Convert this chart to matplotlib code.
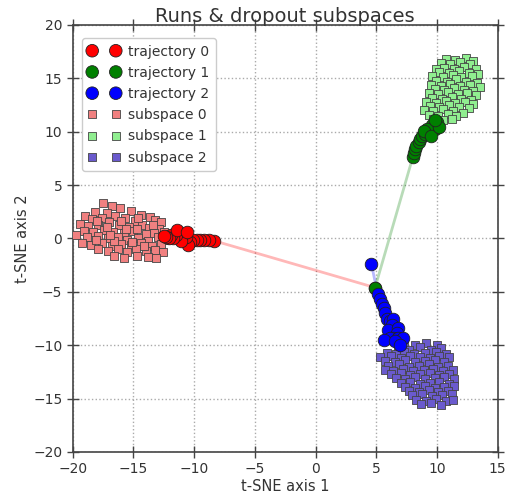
import matplotlib
matplotlib.use("Agg")
import matplotlib.pyplot as plt
import numpy as np

# ---------------- data ----------------
traj0_x = [4.9, -8.4, -8.8, -9.2, -9.5, -9.8, -10.1, -10.3, -10.5, -10.7, -10.9, -11.1, -11.3, -11.5, -11.7, -11.9, -12.1, -12.3, -12.5, -11.4, -10.6]
traj0_y = [-4.6, -0.2, -0.15, -0.1, -0.15, -0.1, -0.1, -0.3, -0.6, 0.1, 0.4, -0.2, 0.6, 0.3, 0.0, 0.35, 0.05, 0.15, 0.2, 0.75, 0.65]

traj1_x = [4.9, 8.0, 8.1, 8.2, 8.3, 8.5, 8.6, 8.8, 9.0, 9.3, 9.6, 9.8, 9.9, 10.0, 9.6, 9.2, 8.9, 9.5, 10.2, 9.8]
traj1_y = [-4.6, 7.6, 8.0, 8.4, 8.7, 9.0, 9.3, 9.6, 9.8, 9.9, 10.1, 10.3, 10.6, 10.9, 10.6, 10.3, 10.1, 9.6, 10.4, 11.1]

traj2_x = [4.6, 5.1, 5.3, 5.45, 5.6, 5.7, 5.9, 6.1, 6.4, 6.3, 6.0, 6.8, 6.7, 6.4, 6.1, 5.65, 6.8, 7.2, 6.5, 6.95]
traj2_y = [-2.35, -5.2, -5.7, -6.1, -6.5, -7.0, -7.5, -7.7, -7.5, -8.1, -8.6, -8.4, -8.9, -9.3, -9.3, -9.5, -9.3, -9.3, -9.6, -10.0]

sub0_x = [-17.5, -16.8, -16.1, -15.2, -18.2, -17.2, -14.4, -13.6,
          -19.0, -18.4, -17.6, -16.5, -15.7, -14.9, -13.2, -12.7,
          -19.4, -18.7, -17.9, -17.0, -16.2, -15.4, -14.3, -13.7, -12.9,
          -19.1, -18.3, -17.4, -16.7, -15.8, -15.0, -14.0, -13.3, -12.5,
          -19.7, -18.8, -17.9, -17.1, -16.3, -15.5, -14.6, -13.8, -13.0, -12.4,
          -19.2, -18.5, -17.6, -16.8, -16.0, -15.2, -14.4, -13.5, -12.7,
          -17.9, -17.1, -16.3, -15.5, -14.8, -14.0, -13.2, -12.6,
          -16.6, -15.8, -14.7, -13.8, -13.1,
          -18.0, -16.0, -14.6, -17.2, -15.6, -14.7, -18.1, -16.6, -14.1, -13.4, -15.1, -16.9]
sub0_y = [3.3, 3.0, 2.9, 2.6, 2.5, 2.4, 2.2, 2.0,
          2.1, 1.8, 1.9, 2.1, 1.9, 1.6, 1.7, 1.5,
          1.4, 1.2, 1.3, 1.5, 1.3, 1.1, 1.3, 1.0, 0.9,
          0.7, 0.6, 0.8, 0.6, 0.5, 0.7, 0.4, 0.5, 0.6,
          0.3, 0.1, 0.2, 0.0, 0.1, -0.1, 0.0, -0.2, 0.1, -0.1,
          -0.4, -0.6, -0.4, -0.7, -0.5, -0.6, -0.4, -0.7, -0.5,
          -1.0, -1.2, -1.0, -1.3, -1.0, -1.2, -1.1, -1.3,
          -1.6, -1.8, -1.6, -1.7, -1.8,
          1.6, 1.6, 1.9, 1.1, 0.9, 0.9, -0.1, -0.2, -0.7, 1.3, -0.3, 0.3]

sub1_x = [10.7, 11.5, 12.4, 13.0,
          10.3, 11.1, 11.9, 12.7,
          9.9, 10.6, 11.4, 12.2, 13.2,
          10.2, 11.0, 11.8, 12.6, 13.4,
          9.6, 10.5, 11.3, 12.0, 12.9,
          9.9, 10.8, 11.6, 12.4, 13.3,
          9.5, 10.3, 11.1, 11.9, 12.7, 13.5,
          9.8, 10.6, 11.4, 12.2, 13.0,
          9.3, 10.1, 10.9, 11.7, 12.5, 13.2,
          9.6, 10.4, 11.2, 12.0, 12.8,
          9.1, 9.9, 10.7, 11.5, 12.3, 13.0,
          9.4, 10.2, 11.0, 11.8, 12.6,
          8.9, 9.7, 10.5, 11.3, 12.1,
          9.3, 10.1, 10.9, 11.6,
          9.7, 10.5, 11.2]
sub1_y = [16.8, 16.7, 16.9, 16.6,
          16.4, 16.3, 16.5, 16.3,
          15.9, 16.0, 15.9, 16.1, 15.9,
          15.6, 15.5, 15.7, 15.5, 15.4,
          15.2, 15.1, 15.3, 15.1, 15.2,
          14.8, 14.7, 14.9, 14.7, 14.6,
          14.4, 14.3, 14.5, 14.3, 14.4, 14.2,
          14.0, 13.9, 14.1, 13.9, 13.8,
          13.6, 13.5, 13.7, 13.5, 13.6, 13.4,
          13.2, 13.1, 13.3, 13.1, 13.0,
          12.8, 12.7, 12.9, 12.7, 12.8, 12.6,
          12.4, 12.3, 12.5, 12.3, 12.2,
          12.0, 11.9, 12.1, 11.9, 11.8,
          11.6, 11.5, 11.7, 11.5,
          11.2, 11.1, 11.2]

sub2_x = [7.3, 8.2, 9.1, 10.0,
          6.8, 7.7, 8.6, 9.5, 10.3,
          5.9, 6.6, 7.3, 8.1, 9.0, 9.9, 10.7,
          5.3, 6.2, 7.0, 7.8, 8.6, 9.4, 10.2, 11.0,
          5.7, 6.5, 7.4, 8.2, 9.0, 9.8, 10.6,
          6.0, 6.9, 7.7, 8.5, 9.3, 10.1, 10.9,
          5.7, 6.4, 7.2, 8.0, 8.9, 9.7, 10.5, 11.3,
          6.2, 7.0, 7.8, 8.6, 9.4, 10.2, 11.0,
          6.6, 7.4, 8.2, 9.0, 9.8, 10.6, 11.4,
          7.0, 7.8, 8.6, 9.4, 10.2, 11.0,
          7.4, 8.2, 9.0, 9.8, 10.6, 11.4,
          7.7, 8.5, 9.3, 10.1, 10.9,
          7.9, 8.8, 9.6, 10.4, 11.2,
          8.3, 9.1, 9.9, 10.7, 11.3,
          8.7, 9.5, 10.3]
sub2_y = [-9.9, -10.0, -9.8, -10.0,
          -10.3, -10.4, -10.2, -10.4, -10.3,
          -10.7, -10.8, -10.6, -10.8, -10.7, -10.6, -10.8,
          -11.1, -11.0, -11.2, -11.0, -11.1, -11.2, -11.0, -11.1,
          -11.5, -11.6, -11.4, -11.6, -11.5, -11.4, -11.6,
          -11.9, -11.8, -12.0, -11.9, -11.8, -12.0, -11.9,
          -12.3, -12.4, -12.2, -12.4, -12.3, -12.2, -12.4, -12.3,
          -12.7, -12.6, -12.8, -12.7, -12.6, -12.8, -12.7,
          -13.1, -13.2, -13.0, -13.2, -13.1, -13.0, -13.2,
          -13.5, -13.4, -13.6, -13.5, -13.4, -13.6,
          -13.9, -14.0, -13.8, -14.0, -13.9, -13.8,
          -14.3, -14.4, -14.2, -14.4, -14.3,
          -14.7, -14.6, -14.8, -14.7, -14.6,
          -15.1, -15.2, -15.0, -15.2, -15.1,
          -15.5, -15.4, -15.6]

traj_colors = ["red", "green", "blue"]
sub_colors = ["lightcoral", "lightgreen", "slateblue"]
traj_labels = ["trajectory 0", "trajectory 1", "trajectory 2"]
sub_labels = ["subspace 0", "subspace 1", "subspace 2"]

# ---------------- plot ----------------
txt = "#333333"
plt.rcParams["font.family"] = ["DejaVu Sans"]
plt.rcParams["text.color"] = txt
plt.rcParams["axes.labelcolor"] = txt
plt.rcParams["xtick.color"] = txt
plt.rcParams["ytick.color"] = txt

fig = plt.figure(figsize=(5.07, 4.98), dpi=100)
ax = fig.add_axes([0.1434, 0.0924, 0.8383, 0.8574])

trajs = [(traj0_x, traj0_y), (traj1_x, traj1_y), (traj2_x, traj2_y)]
subs = [(sub0_x, sub0_y), (sub1_x, sub1_y), (sub2_x, sub2_y)]

handles_t = []
for (tx, ty), c, lab in zip(trajs, traj_colors, traj_labels):
    ax.plot(tx, ty, "-", color=c, alpha=0.28, lw=2, zorder=2)
    h = ax.scatter(tx, ty, s=82, c=c, marker="o", edgecolors="#222222",
                   linewidths=0.6, zorder=4, label=lab)
    handles_t.append(h)

handles_s = []
for (sx, sy), c, lab in zip(subs, sub_colors, sub_labels):
    h = ax.scatter(sx, sy, s=32, c=c, marker="s", edgecolors="#444444",
                   linewidths=0.6, zorder=3, label=lab)
    handles_s.append(h)

ax.set_xlim(-20, 15)
ax.set_ylim(-20, 20)
ax.set_xticks(np.arange(-20, 16, 5))
ax.set_yticks(np.arange(-20, 21, 5))
ax.grid(True, linestyle=":", color="#aaaaaa", lw=1)
ax.set_axisbelow(True)
for sp in ax.spines.values():
    sp.set_color("#444444")
    sp.set_linewidth(1.2)
ax.tick_params(direction="inout", length=8, width=1, top=True, right=True,
               labelsize=10, color="#444444")

ax.set_xlabel("t-SNE axis 1", fontsize=10.5, labelpad=2)
ax.set_ylabel("t-SNE axis 2", fontsize=10.5, labelpad=2)
ax.set_title("Runs & dropout subspaces", fontsize=14, pad=2)

leg = ax.legend(handles=handles_t + handles_s, loc="upper left", scatterpoints=2,
                scatteryoffsets=[0.5],
                fontsize=10, framealpha=1, edgecolor="#cccccc", fancybox=True,
                borderpad=0.45, labelspacing=0.52, handletextpad=0.6,
                handlelength=2.3, bbox_to_anchor=(0.005, 0.985))
leg.get_frame().set_linewidth(1)

fig.savefig("out.png", dpi=100)
